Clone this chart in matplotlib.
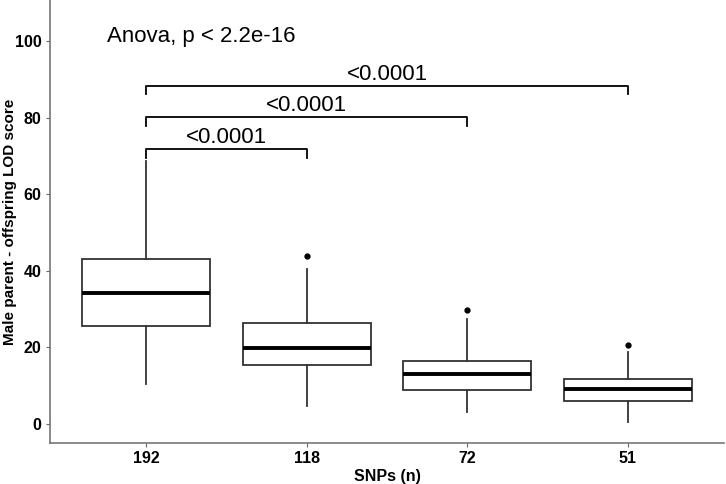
import numpy as np
import matplotlib.pyplot as plt

plt.rcParams['font.family'] = ['Liberation Sans', 'DejaVu Sans']

snps = ["192", "118", "72", "51"]
q1 = [25.6, 15.2, 8.7, 6.0]
med = [34.2, 19.8, 12.9, 8.9]
q3 = [43.1, 26.4, 16.4, 11.7]
whislo = [10.4, 4.7, 3.0, 0.3]
whishi = [68.7, 40.4, 27.4, 18.6]
outliers = [[], [43.9], [29.6], [20.6]]

# pairwise comparisons (group index a, group index b, bracket height, label)
comparisons = [(0, 1, 71.7, "<0.0001"), (0, 2, 80.1, "<0.0001"), (0, 3, 88.3, "<0.0001")]
anova_label = "Anova, p < 2.2e-16"

stats = []
for i in range(len(snps)):
    stats.append(dict(q1=q1[i], med=med[i], q3=q3[i], whislo=whislo[i],
                      whishi=whishi[i], fliers=outliers[i]))

fig = plt.figure(figsize=(7.26, 4.84), dpi=100)
ax = fig.add_axes([50 / 726, 41 / 484, 674 / 726, 443 / 484])

pos = np.arange(1, len(snps) + 1)
ax.bxp(stats, positions=pos, widths=0.8, showcaps=False, patch_artist=True,
       boxprops=dict(facecolor="white", edgecolor="#333333", linewidth=1.3),
       whiskerprops=dict(color="#333333", linewidth=1.3),
       medianprops=dict(color="black", linewidth=2.8, solid_capstyle="butt"),
       flierprops=dict(marker="o", markerfacecolor="black", markeredgecolor="black",
                       markersize=3.5, linestyle="none"))

tip = 2.2
for a, b, y, lab in comparisons:
    xa, xb = pos[a], pos[b]
    ax.plot([xa, xa, xb, xb], [y - tip, y, y, y - tip], color="black", linewidth=1.3)
    ax.text((xa + xb) / 2, y + 1.6, lab, ha="center", va="baseline", fontsize=16)

ax.text(0.756, 99.8, anova_label, ha="left", va="baseline", fontsize=16)

ax.set_xlim(0.4, 4.6)
ax.set_ylim(-5.1, 110.8)
ax.set_xticks(pos)
ax.set_xticklabels(snps)
ax.set_yticks([0, 20, 40, 60, 80, 100])
for lab in ax.get_xticklabels() + ax.get_yticklabels():
    lab.set_fontweight("bold")
    lab.set_fontsize(11.5)
ax.tick_params(length=3, width=0.8, color="#666666", labelcolor="black", pad=3)

for s in ["top", "right"]:
    ax.spines[s].set_visible(False)
for s in ["left", "bottom"]:
    ax.spines[s].set_color("#777777")
    ax.spines[s].set_linewidth(1.2)

ax.set_xlabel("SNPs (n)", fontsize=11.5, fontweight="bold", labelpad=2)
ax.set_ylabel("Male parent - offspring LOD score", fontsize=11, fontweight="bold")
ax.yaxis.set_label_coords(-40 / 674, 0.5 + (222 - 222) / 443)
# centre of label in reference sits around y=222 px
ax.yaxis.label.set_verticalalignment("center")
ax.yaxis.set_label_coords(-40 / 674, (443 - 222) / 443)

fig.savefig("out.png", dpi=100)
